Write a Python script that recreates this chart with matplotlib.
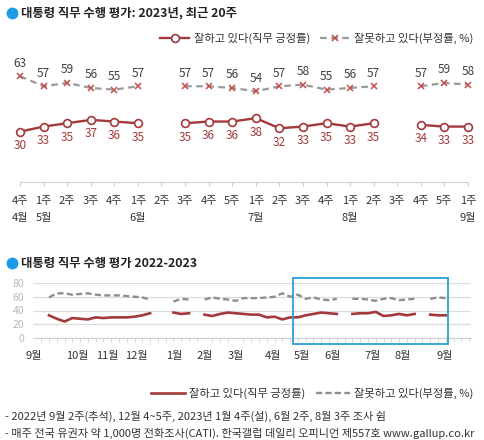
import numpy as np
import matplotlib
matplotlib.use("Agg")
import matplotlib.pyplot as plt
from matplotlib.lines import Line2D
from matplotlib.patches import Rectangle

plt.rcParams['font.family'] = ['Noto Sans CJK KR', 'DejaVu Sans']

# ── Data ─────────────────────────────────────────────────────────────────────
# top chart: last 20 weeks (4월 4주 ~ 9월 1주)
week_labels = ["4주", "1주", "2주", "3주", "4주", "1주", "2주", "3주", "4주", "5주",
               "1주", "2주", "3주", "4주", "1주", "2주", "3주", "4주", "5주", "1주"]
month_labels = ["4월", "5월", "", "", "", "6월", "", "", "", "",
                "7월", "", "", "", "8월", "", "", "", "", "9월"]
approve_20 = [30, 33, 35, 37, 36, 35, None, 35, 36, 36,
              38, 32, 33, 35, 33, 35, None, 34, 33, 33]
disapprove_20 = [63, 57, 59, 56, 55, 57, None, 57, 57, 56,
                 54, 57, 58, 55, 56, 57, None, 57, 59, 58]

# bottom chart: weekly from 2022 9월 1주 (earlier 34 weeks, then the 20 above)
approve_early = [27, None, 33, 28, 24, 29, 28, 27, 30, 29, 30, 30, 30, 31, 33, 36,
                 None, None, 37, 35, 36, None, 34, 32, 35, 37, 36, 35, 34, 34,
                 30, 31, 27, 30]
disapprove_early = [65, None, 59, 65, 65, 63, 64, 65, 63, 62, 62, 62, 61, 60, 59, 56,
                    None, None, 53, 57, 56, None, 56, 59, 57, 56, 54, 58, 58, 58,
                    59, 60, 65, 60]
approve_year = approve_early + approve_20
disapprove_year = disapprove_early + disapprove_20
year_months = ["9월", "10월", "11월", "12월", "1월", "2월", "3월",
               "4월", "5월", "6월", "7월", "8월", "9월"]
year_month_pos = [0, 5.6, 9.5, 13.3, 18.1, 22, 26, 30.8, 34.5, 38.5, 43.6, 47.5, 52.9]

lbl_approve = "잘하고 있다(직무 긍정률)"
lbl_disapprove = "잘못하고 있다(부정률, %)"
notes = ["- 2022년 9월 2주(추석), 12월 4~5주, 2023년 1월 4주(설), 6월 2주, 8월 3주 조사 쉼",
         "- 매주 전국 유권자 약 1,000명 전화조사(CATI). 한국갤럽 데일리 오피니언 제557호 www.gallup.co.kr"]

RED = "#a3393a"
XRED = "#c0504d"
GRAY = "#9a9a9a"
BLUE = "#1a9be6"
DARK = "#333333"

W, H = 485, 440
fig = plt.figure(figsize=(W / 100, H / 100), dpi=100)
fig.patch.set_facecolor("white")


def fx(px):
    return px / W


def fy(py):
    return 1 - py / H


# ── Titles with bullets ──────────────────────────────────────────────────────
for ty, title in [(13, "대통령 직무 수행 평가: 2023년, 최근 20주"),
                  (263, "대통령 직무 수행 평가 2022-2023")]:
    fig.add_artist(Line2D([fx(12)], [fy(ty)], marker="o", ms=7.5, color=BLUE,
                          transform=fig.transFigure))
    fig.text(fx(21), fy(ty), title, fontsize=8.9, fontweight="bold",
             color="#222222", va="center", ha="left")

# ── Top chart ────────────────────────────────────────────────────────────────
ax1 = fig.add_axes([fx(8), fy(182), fx(472), 132 / H])
x20 = np.arange(len(week_labels))
a20 = np.array(approve_20, dtype=float)
d20 = np.array(disapprove_20, dtype=float)

ax1.plot(x20, d20, ls="--", dashes=(3, 2), color=GRAY, lw=1.6,
         marker="x", ms=4.5, mec=XRED, mew=1.1, clip_on=False)
ax1.plot(x20, a20, color=RED, lw=1.7, marker="o", ms=5.6, mfc="white",
         mec=RED, mew=1.2, clip_on=False, zorder=3)

for xi, v in zip(x20, d20):
    if not np.isnan(v):
        ax1.annotate(f"{v:.0f}", (xi, v), xytext=(0, 9.5), textcoords="offset points",
                     ha="center", va="center", fontsize=8.5, color="#404040")
for xi, v in zip(x20, a20):
    if not np.isnan(v):
        ax1.annotate(f"{v:.0f}", (xi, v), xytext=(0, -10), textcoords="offset points",
                     ha="center", va="center", fontsize=8.5, color=RED)

ax1.set_xlim(-0.51, len(x20) - 1 + 0.51)
ax1.set_ylim(0, 78.6)
ax1.set_yticks([])
for s in ["top", "right", "left"]:
    ax1.spines[s].set_visible(False)
ax1.spines["bottom"].set_bounds(0, len(x20) - 1)
ax1.spines["bottom"].set_color("#d0d0d0")
ax1.set_xticks(x20)
ax1.set_xticklabels([f"{w}\n{m}" for w, m in zip(week_labels, month_labels)],
                    linespacing=1.9)
ax1.tick_params(axis="x", length=3, color="#d0d0d0", labelsize=8,
                labelcolor=DARK, pad=7)
ax1.set_facecolor("none")

h_app = Line2D([], [], color=RED, lw=1.7, marker="o", ms=5.6, mfc="white", mec=RED, mew=1.2)
h_dis = Line2D([], [], color=GRAY, lw=1.6, ls="--", dashes=(3, 2), marker="x",
               ms=4.5, mec=XRED, mew=1.1)
fig.legend([h_app, h_dis], [lbl_approve, lbl_disapprove], loc="center right",
           bbox_to_anchor=(fx(478), fy(38)), ncol=2, frameon=False, fontsize=8.1,
           handlelength=2.6, handletextpad=0.4, columnspacing=0.9,
           labelcolor=DARK, borderaxespad=0)

# ── Bottom chart ─────────────────────────────────────────────────────────────
kx = np.arange(len(approve_year))
ay = np.array(approve_year, dtype=float)
dy = np.array(disapprove_year, dtype=float)
n_weeks_axis = 56.3

left_px, step = 33.4, 7.78
x_lo = -0.1
ax2 = fig.add_axes([fx(left_px + x_lo * step), fy(338),
                    (n_weeks_axis - x_lo) * step / W, 55 / H])
ax2.plot(kx, dy, color="#8e8e8e", ls="--", dashes=(2.6, 1.4), lw=1.7)
ax2.plot(kx, ay, color=RED, lw=1.9)

ax2.set_xlim(x_lo, n_weeks_axis)
ax2.set_ylim(0, 80)
ax2.set_yticks([0, 20, 40, 60, 80])
ax2.grid(axis="y", color="#dcdcdc", lw=0.9)
ax2.set_axisbelow(True)
for s in ["top", "right", "left"]:
    ax2.spines[s].set_visible(False)
ax2.spines["bottom"].set_color("#d0d0d0")
ax2.set_xticks(year_month_pos)
ax2.set_xticklabels(year_months)
ax2.set_xticks(np.arange(0, int(n_weeks_axis) + 1), minor=True)
ax2.tick_params(axis="x", which="major", length=0, labelsize=8, labelcolor=DARK, pad=9)
ax2.tick_params(axis="x", which="minor", length=3, color="#d0d0d0")
ax2.tick_params(axis="y", length=0, labelsize=7.5, labelcolor="#b8b8b8", pad=6)

# highlight box for the recent 20 weeks
k0 = len(approve_early)
k1 = len(approve_year) - 1
ax2.add_patch(Rectangle((k0 - 0.6, -8.7), (k1 + 0.3) - (k0 - 0.6), 96,
                        fill=False, ec="#2a9fd6", lw=1.3, clip_on=False, zorder=4))

h_app2 = Line2D([], [], color=RED, lw=1.9)
h_dis2 = Line2D([], [], color="#8e8e8e", lw=1.7, ls="--", dashes=(2.6, 1.4))
fig.legend([h_app2, h_dis2], [lbl_approve, lbl_disapprove], loc="center right",
           bbox_to_anchor=(fx(478), fy(393)), ncol=2, frameon=False, fontsize=8.1,
           handlelength=3.0, handletextpad=0.4, columnspacing=0.9,
           labelcolor=DARK, borderaxespad=0)

# ── Footnotes ────────────────────────────────────────────────────────────────
for ny, note in zip([416, 433], notes):
    fig.text(fx(5), fy(ny), note, fontsize=8.0, color=DARK, va="center", ha="left")

fig.savefig("out.png", dpi=100)
